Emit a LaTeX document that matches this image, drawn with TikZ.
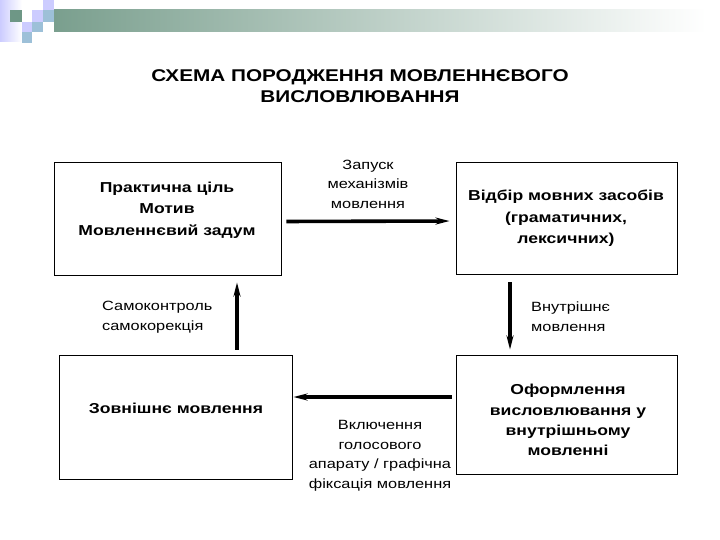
\documentclass[tikz,border=0pt]{standalone}
\usepackage{fontspec}
\setmainfont[FakeStretch=1.22]{Liberation Sans}
\usetikzlibrary{arrows.meta}
\definecolor{barL}{HTML}{7A9F8E}
\definecolor{sqDark}{HTML}{6E9786}
\definecolor{sqLav}{HTML}{CCCCFF}
\definecolor{sqBlue}{HTML}{9DC0D8}
\tikzset{
  box/.style={draw=black, line width=0.9pt, inner sep=0pt},
  boxtext/.style={align=center, font=\fontsize{14.4}{21.5}\selectfont\bfseries, inner sep=0pt},
  lbl/.style={align=center, font=\fontsize{13.4}{19.5}\selectfont, inner sep=0pt},
  lbll/.style={align=left, font=\fontsize{13.4}{20}\selectfont, inner sep=0pt, anchor=west},
  titl/.style={align=center, font=\fontsize{17}{21}\selectfont\bfseries, inner sep=0pt},
  arr/.style={line width=3.6pt, -{Stealth[length=14pt,width=7pt]}},
}
\begin{document}
\begin{tikzpicture}[x=1pt,y=-1pt]
\useasboundingbox (0,0) rectangle (720,540);
% decoration
\shade[left color=sqLav, right color=white] (0,0) rectangle (22,42);
\shade[left color=barL, right color=white] (54,10) rectangle (706,32);
\fill[sqDark] (10,10) rectangle (22,22);
\fill[sqLav] (32,10) rectangle (43,22);
\fill[sqLav] (43,0) rectangle (54,10);
\fill[sqBlue] (43,10) rectangle (54,22);
\fill[sqLav] (22,22) rectangle (32,32);
\fill[sqBlue] (32,22) rectangle (43,32);
\fill[sqBlue] (22,32) rectangle (32,43);
% title
\node[titl] (title) at (360,86) {СХЕМА ПОРОДЖЕННЯ МОВЛЕННЄВОГО\\ВИСЛОВЛЮВАННЯ};
% boxes
\node[box, minimum width=227pt, minimum height=113pt] (b1) at (167.5,218.5) {};
\node[box, minimum width=221pt, minimum height=112pt] (b2) at (566.5,218) {};
\node[box, minimum width=233pt, minimum height=124pt] (b3) at (175.5,417) {};
\node[box, minimum width=221pt, minimum height=119pt] (b4) at (566.5,414.5) {};
% box texts
\node[boxtext] (t1) at (167,210) {Практична ціль\\Мотив\\Мовленнєвий задум};
\node[boxtext] (t2) at (566,218.5) {Відбір мовних засобів\\(граматичних,\\лексичних)};
\node[boxtext] (t3) at (176,408) {Зовнішнє мовлення};
\node[boxtext, font=\fontsize{14.4}{20.3}\selectfont\bfseries] (t4) at (568,420) {Оформлення\\висловлювання у\\внутрішньому\\мовленні};
% arrows
\draw[arr, shorten <=5pt, shorten >=6pt] ([yshift=-3pt]b1.east) -- ([yshift=-3pt]b2.west);
\draw[arr, shorten <=8pt, shorten >=5pt] (b2.south -| 510,0) -- (b4.north -| 510,0);
\draw[arr, shorten <=4pt, shorten >=1pt] (b4.west |- 0,397) -- (b3.east |- 0,397);
\draw[arr, shorten <=5pt, shorten >=7pt] (b3.north -| 237,0) -- (b1.south -| 237,0);
% labels
\node[lbl] (l1) at (368,184) {Запуск\\механізмів\\мовлення};
\node[lbll] (l2) at (102,317) {Самоконтроль\\самокорекція};
\node[lbll] (l3) at (531,317) {Внутрішнє\\мовлення};
\node[lbl] (l4) at (380,456) {Включення\\голосового\\апарату / графічна\\фіксація мовлення};
\end{tikzpicture}
\end{document}
